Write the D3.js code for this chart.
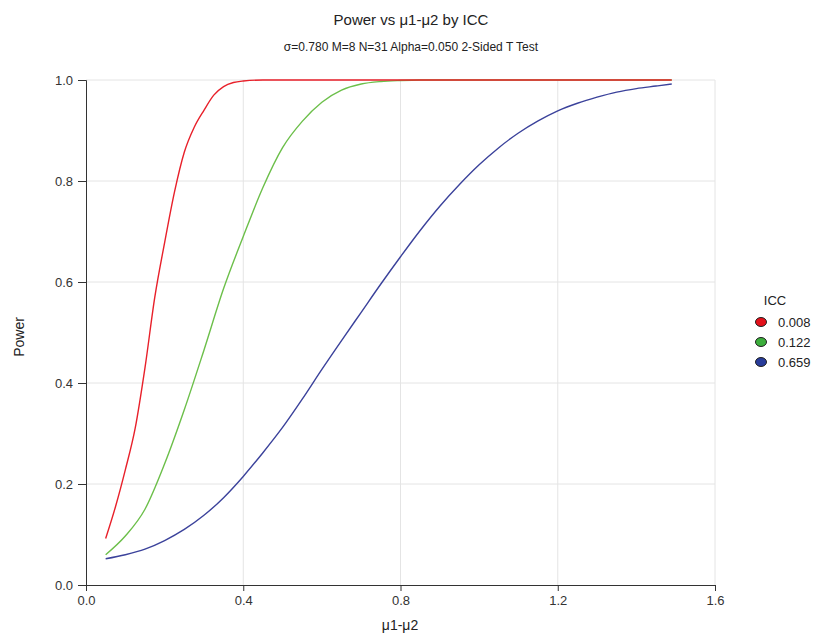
<!DOCTYPE html>
<html lang="en">
<head>
    <meta charset="UTF-8">
    <title>Power vs μ1-μ2 by ICC</title>
    <style>
        body {
            margin: 0;
            padding: 0;
            background-color: #fff;
            font-family: 'Liberation Sans', Arial, sans-serif;
        }

        .grid line {
            stroke: #e4e4e4;
            stroke-width: 1;
        }

        .axis path, .axis line {
            stroke: #333;
        }

        .axis text {
            font-size: 13px;
            fill: #333;
        }
    </style>
    <script src="https://d3js.org/d3.v7.min.js"></script>
</head>
<body>
    <div id="chart"></div>

    <script>
        // mean differences (x values) for ICC 0.122 and 0.659
        var diffs = [0.05, 0.10, 0.15, 0.20, 0.25, 0.30, 0.35, 0.40, 0.45, 0.50,
                     0.55, 0.60, 0.65, 0.70, 0.75, 0.80, 0.85, 0.90, 0.95, 1.00,
                     1.05, 1.10, 1.15, 1.20, 1.25, 1.30, 1.35, 1.40, 1.45, 1.49];
        // finer x values for the steep ICC 0.008 curve
        var diffsFine = [0.05, 0.075, 0.10, 0.125, 0.15, 0.175, 0.20, 0.225, 0.25, 0.275,
                         0.30, 0.325, 0.35, 0.375, 0.40, 0.45, 0.60, 0.80, 1.00, 1.20, 1.49];

        // power for each ICC
        var power008 = [0.092, 0.155, 0.228, 0.310, 0.430, 0.570, 0.678, 0.778, 0.857, 0.906,
                        0.940, 0.970, 0.987, 0.995, 0.998, 1.0, 1.0, 1.0, 1.0, 1.0, 1.0];
        var power122 = [0.060, 0.097, 0.150, 0.240, 0.347, 0.465, 0.587, 0.690, 0.787, 0.866,
                        0.918, 0.956, 0.980, 0.992, 0.997, 0.999, 1.0, 1.0, 1.0, 1.0,
                        1.0, 1.0, 1.0, 1.0, 1.0, 1.0, 1.0, 1.0, 1.0, 1.0];
        var power659 = [0.052, 0.060, 0.071, 0.088, 0.110, 0.138, 0.173, 0.215, 0.262, 0.312,
                        0.368, 0.427, 0.484, 0.540, 0.596, 0.650, 0.702, 0.750, 0.793, 0.832,
                        0.866, 0.895, 0.919, 0.939, 0.954, 0.966, 0.976, 0.983, 0.988, 0.992];

        var iccLabels = ['0.008', '0.122', '0.659'];
        var lineColors = ['#e8202a', '#6cbf4a', '#3b429b'];
        var dotColors = ['#e3111b', '#3cae3c', '#283c9a'];

        var xTicks = [0.0, 0.4, 0.8, 1.2, 1.6];
        var yTicks = [0.0, 0.2, 0.4, 0.6, 0.8, 1.0];

        var width = 822, height = 636;
        var margin = { left: 86, right: 107, top: 80, bottom: 51 };

        var svg = d3.select('#chart')
            .append('svg')
            .attr('width', width)
            .attr('height', height);

        var x = d3.scaleLinear().domain([0, 1.6]).range([margin.left, width - margin.right]);
        var y = d3.scaleLinear().domain([0, 1]).range([height - margin.bottom, margin.top]);

        // grid
        var grid = svg.append('g').attr('class', 'grid');
        grid.selectAll('.gx')
            .data(xTicks.slice(1))
            .enter()
            .append('line')
            .attr('x1', d => x(d)).attr('x2', d => x(d))
            .attr('y1', y(0)).attr('y2', y(1));
        grid.selectAll('.gy')
            .data(yTicks.slice(1))
            .enter()
            .append('line')
            .attr('x1', x(0)).attr('x2', x(1.6))
            .attr('y1', d => y(d)).attr('y2', d => y(d));

        // axes
        svg.append('g')
            .attr('class', 'axis')
            .attr('transform', 'translate(0,' + y(0) + ')')
            .call(d3.axisBottom(x).tickValues(xTicks).tickFormat(d3.format('.1f')).tickSizeOuter(0).tickSize(6).tickPadding(5));

        svg.append('g')
            .attr('class', 'axis')
            .attr('transform', 'translate(' + x(0) + ',0)')
            .call(d3.axisLeft(y).tickValues(yTicks).tickFormat(d3.format('.1f')).tickSizeOuter(0).tickSize(8).tickPadding(5));

        // lines, drawn so the red one sits on top
        var series = [
            { xs: diffs, ys: power659, color: lineColors[2] },
            { xs: diffs, ys: power122, color: lineColors[1] },
            { xs: diffsFine, ys: power008, color: lineColors[0] }
        ];

        svg.selectAll('.series')
            .data(series)
            .enter()
            .append('path')
            .attr('d', s => d3.line()
                .x((d, i) => x(s.xs[i]))
                .y(d => y(d))
                .curve(d3.curveMonotoneX)(s.ys))
            .attr('fill', 'none')
            .attr('stroke', s => s.color)
            .attr('stroke-width', 1.4);

        // titles
        svg.append('text')
            .attr('x', 411).attr('y', 25)
            .attr('text-anchor', 'middle')
            .attr('font-size', '15px')
            .attr('fill', '#222')
            .text('Power vs μ1-μ2 by ICC');

        svg.append('text')
            .attr('x', 411).attr('y', 51)
            .attr('text-anchor', 'middle')
            .attr('font-size', '12px')
            .attr('fill', '#222')
            .text('σ=0.780 M=8 N=31 Alpha=0.050 2-Sided T Test');

        svg.append('text')
            .attr('x', 400).attr('y', 630)
            .attr('text-anchor', 'middle')
            .attr('font-size', '14px')
            .attr('fill', '#222')
            .text('μ1-μ2');

        svg.append('text')
            .attr('transform', 'translate(24,337) rotate(-90)')
            .attr('text-anchor', 'middle')
            .attr('font-size', '14px')
            .attr('fill', '#222')
            .text('Power');

        // legend
        var legend = svg.append('g');
        legend.append('text')
            .attr('x', 775).attr('y', 305)
            .attr('text-anchor', 'middle')
            .attr('font-size', '13px')
            .attr('fill', '#222')
            .text('ICC');

        var items = legend.selectAll('.item')
            .data(iccLabels)
            .enter()
            .append('g')
            .attr('transform', (d, i) => 'translate(0,' + (322 + i * 20) + ')');

        items.append('ellipse')
            .attr('cx', 761).attr('cy', 0)
            .attr('rx', 5.5).attr('ry', 4.5)
            .attr('fill', (d, i) => dotColors[i])
            .attr('stroke', '#222')
            .attr('stroke-width', 1);

        items.append('text')
            .attr('x', 778).attr('y', 4.5)
            .attr('font-size', '13px')
            .attr('fill', '#222')
            .text(d => d);
    </script>
</body>
</html>
